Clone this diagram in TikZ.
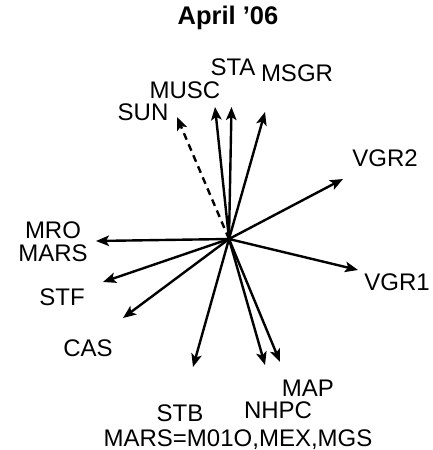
\documentclass[tikz,border=0pt]{standalone}
\usepackage{fontspec}
\setmainfont{Liberation Sans}
\usetikzlibrary{arrows.meta}
\begin{document}
\begin{tikzpicture}[x=1pt,y=1pt,
  vec/.style={line width=2.4pt,-{Stealth[length=13pt,width=10.5pt,inset=3pt]}},
  lbl/.style={font=\fontsize{24}{26}\selectfont,inner sep=0pt,anchor=center},
  ttl/.style={font=\fontsize{25.5}{28}\selectfont\bfseries,inner sep=0pt}]
\useasboundingbox (0,0) rectangle (432,450);
\coordinate (C) at (229,211);
\coordinate (tSUN) at (177,333);
\coordinate (tMUSC) at (215,343);
\coordinate (tSTA) at (231.5,343);
\coordinate (tMSGR) at (265,338);
\coordinate (tVGR2) at (343,271);
\coordinate (tMRO) at (96,209);
\coordinate (tSTF) at (103,168);
\coordinate (tCAS) at (123,132);
\coordinate (tSTB) at (193,83);
\coordinate (tNHPC) at (265,85);
\coordinate (tMAP) at (280,88);
\coordinate (tVGR1) at (358,180);
\draw[vec,dashed,dash pattern=on 7pt off 5pt] (C) -- (tSUN);
\draw[vec] (C) -- (tMUSC);
\draw[vec] (C) -- (tSTA);
\draw[vec] (C) -- (tMSGR);
\draw[vec] (C) -- (tVGR2);
\draw[vec] (C) -- (tMRO);
\draw[vec] (C) -- (tSTF);
\draw[vec] (C) -- (tCAS);
\draw[vec] (C) -- (tSTB);
\draw[vec] (C) -- (tNHPC);
\draw[vec] (C) -- (tMAP);
\draw[vec] (C) -- (tVGR1);
\node[ttl] (title) at (228,432) {April ’06};
\node[lbl] (lSTA) at (233,383) {STA};
\node[lbl] (lMSGR) at (297,377) {MSGR};
\node[lbl] (lMUSC) at (185,360) {MUSC};
\node[lbl] (lSUN) at (143,338) {SUN};
\node[lbl] (lVGR2) at (385,292) {VGR2};
\node[lbl] (lMRO) at (53,219.5) {MRO};
\node[lbl] (lMARS) at (53,196.5) {MARS};
\node[lbl] (lSTF) at (62,153) {STF};
\node[lbl] (lCAS) at (88,102) {CAS};
\node[lbl] (lSTB) at (180,37) {STB};
\node[lbl,anchor=base] (lMARSeq) at (238,4) {MARS=M01O,MEX,MGS};
\node[lbl] (lNHPC) at (278,40) {NHPC};
\node[lbl] (lMAP) at (308,62) {MAP};
\node[lbl] (lVGR1) at (397,168) {VGR1};
\end{tikzpicture}
\end{document}
